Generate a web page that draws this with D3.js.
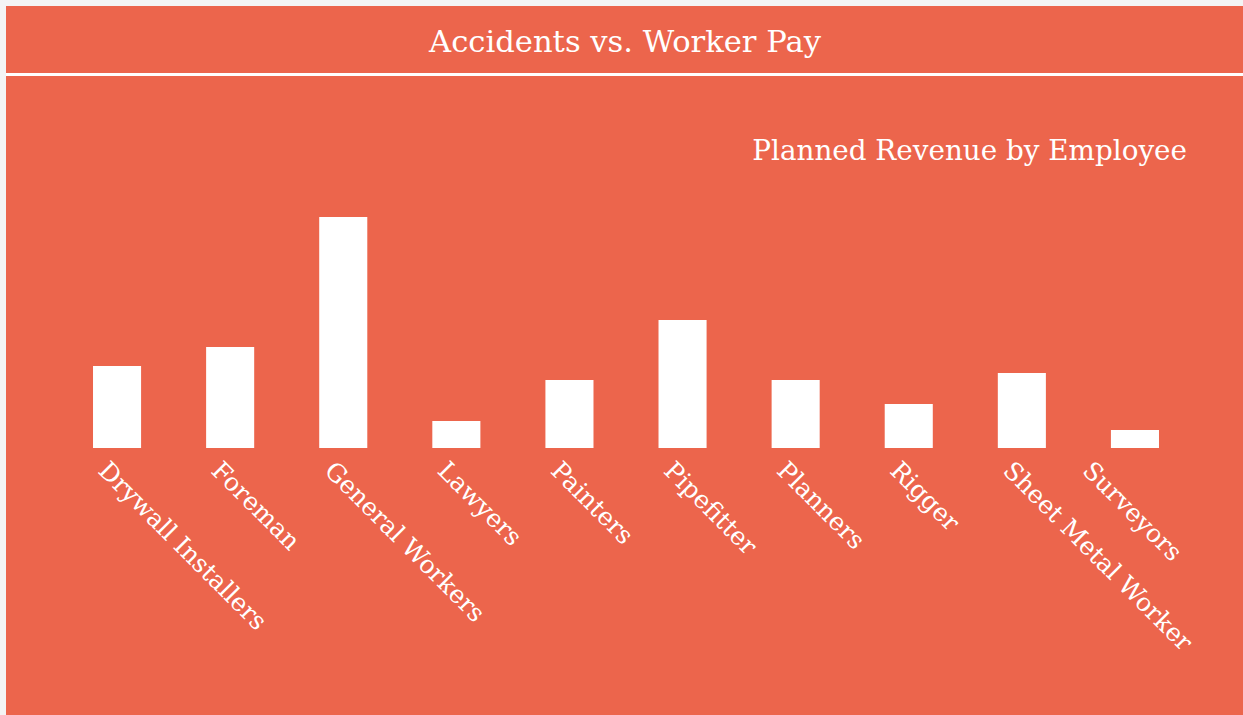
<!DOCTYPE html>
<html>
<head>
<meta charset="utf-8">
<script src="https://cdn.jsdelivr.net/npm/d3@7"></script>
<style>
  html, body { margin: 0; padding: 0; background: #f4f4f4; }
  svg { display: block; }
</style>
</head>
<body>
<div class="interactive"></div>
<script>
// chart data
const CATEGORIES = ["Drywall Installers", "Foreman", "General Workers", "Lawyers", "Painters",
  "Pipefitter", "Planners", "Rigger", "Sheet Metal Worker", "Surveyors"];
const VALUES = [82, 101, 231, 27, 68, 128, 68, 44, 75, 18];
const TITLE = "Accidents vs. Worker Pay";
const SUBTITLE = "Planned Revenue by Employee";

const WIDTH = 1243;
const HEIGHT = 715;
const BG = "#ec654c";
const FONT = "'DejaVu Serif', serif";
const LAST_LABEL_LIMIT = 1188; // the last label is pulled back inside the plot

const svg = d3.select(".interactive")
  .append("svg")
  .attr("width", WIDTH)
  .attr("height", HEIGHT);

// orange panel, header band and white divider
svg.append("rect")
  .attr("x", 6).attr("y", 6)
  .attr("width", WIDTH - 6).attr("height", HEIGHT - 6)
  .attr("fill", BG);

svg.append("rect")
  .attr("x", 6).attr("y", 73)
  .attr("width", WIDTH - 6).attr("height", 3)
  .attr("fill", "#fff");

svg.append("text")
  .attr("x", 625).attr("y", 52)
  .attr("text-anchor", "middle")
  .attr("font-family", FONT)
  .attr("font-size", 30.6)
  .attr("fill", "#fff")
  .text(TITLE);

svg.append("text")
  .attr("x", 1187).attr("y", 160)
  .attr("text-anchor", "end")
  .attr("font-family", FONT)
  .attr("font-size", 27.8)
  .attr("fill", "#fff")
  .text(SUBTITLE);

// scales
const xScale = d3.scaleBand()
  .domain(CATEGORIES)
  .range([60.5, 1191.5])
  .paddingInner(0.575)
  .paddingOuter(0.2875);

const yScale = d3.scaleLinear()
  .domain([0, d3.max(VALUES)])
  .range([448, 217]);

const data = CATEGORIES.map((c, i) => ({ name: c, value: VALUES[i] }));

svg.append("g").attr("class", "bars")
  .selectAll("rect")
  .data(data)
  .join("rect")
  .attr("x", d => xScale(d.name))
  .attr("y", d => yScale(d.value))
  .attr("width", xScale.bandwidth())
  .attr("height", d => yScale(0) - yScale(d.value))
  .attr("fill", "#fff");

// rotated category labels
const labels = svg.append("g").attr("class", "labels")
  .selectAll("text")
  .data(data)
  .join("text")
  .attr("transform", d => `translate(${xScale(d.name) + 4}, 472) rotate(45)`)
  .attr("text-anchor", "start")
  .attr("font-family", FONT)
  .attr("font-size", 25)
  .attr("fill", "#fff")
  .text(d => d.name);

// pull back the last label if it runs past the right edge
labels.filter((d, i) => i === CATEGORIES.length - 1).each(function(d) {
  const right = this.getBoundingClientRect().right;
  if (right > LAST_LABEL_LIMIT) {
    const x = xScale(d.name) + 4 - (right - LAST_LABEL_LIMIT);
    d3.select(this).attr("transform", `translate(${x}, 472) rotate(45)`);
  }
});
</script>
</body>
</html>
